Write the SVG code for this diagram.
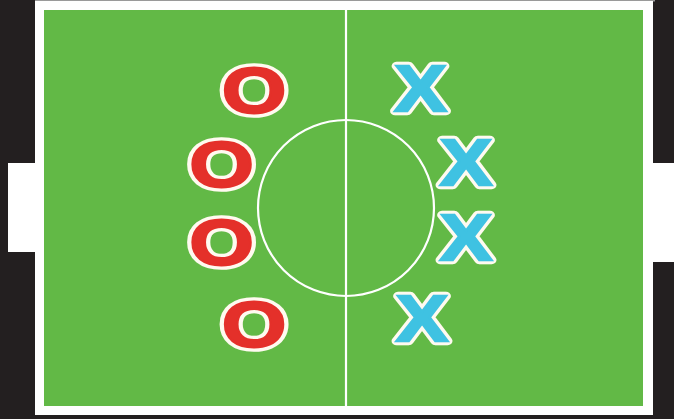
<svg xmlns="http://www.w3.org/2000/svg" width="674" height="419" viewBox="0 0 674 419">
  <style>
    .line { fill: none; stroke: #ffffff; stroke-width: 2.2; }
    .t { font-family: "Liberation Sans", Arial, sans-serif; font-weight: bold; text-anchor: middle; stroke-linejoin: round; }
    .o { font-size: 64px; }
    .x { font-size: 65px; }
    .halo { fill: #fffaf0; stroke: #fffaf0; stroke-width: 8.5; }
    .ored { fill: #e4302a; stroke: #e4302a; stroke-width: 2; }
    .xblue { fill: #3fc2e2; stroke: #3fc2e2; stroke-width: 2.5; stroke-linejoin: miter; }
  </style>
  <rect x="0" y="0" width="674" height="419" fill="#231f20"/>
  <g id="pitch">
    <rect x="35" y="0" width="620" height="1.5" fill="#9a9a9a"/>
    <rect x="35" y="1" width="618" height="414" fill="#ffffff"/>
    <rect x="44" y="10" width="599" height="396" fill="#62b946"/>
  </g>
  <g id="goal-left">
    <rect x="8" y="163" width="29" height="89" fill="#ffffff"/>
  </g>
  <g id="goal-right">
    <rect x="652" y="163" width="22" height="99" fill="#ffffff"/>
  </g>
  <g id="markings">
    <line class="line" x1="346" y1="10" x2="346" y2="406"/>
    <circle class="line" cx="346" cy="208" r="88"/>
  </g>
  <g id="o1" transform="translate(254,90) scale(1.3,1)"><text class="t o halo" x="0" y="23">O</text><text class="t o ored" x="0" y="23">O</text></g>
  <g id="o2" transform="translate(221.5,163.5) scale(1.3,1)"><text class="t o halo" x="0" y="23">O</text><text class="t o ored" x="0" y="23">O</text></g>
  <g id="o3" transform="translate(221.5,242) scale(1.3,1)"><text class="t o halo" x="0" y="23">O</text><text class="t o ored" x="0" y="23">O</text></g>
  <g id="o4" transform="translate(254,323.5) scale(1.3,1)"><text class="t o halo" x="0" y="23">O</text><text class="t o ored" x="0" y="23">O</text></g>
  <g id="x1" transform="translate(420.5,88) scale(1.2,1)"><text class="t x halo" x="0" y="23">X</text><text class="t x xblue" x="0" y="23">X</text></g>
  <g id="x2" transform="translate(466,161.5) scale(1.2,1)"><text class="t x halo" x="0" y="23">X</text><text class="t x xblue" x="0" y="23">X</text></g>
  <g id="x3" transform="translate(466,237) scale(1.2,1)"><text class="t x halo" x="0" y="23">X</text><text class="t x xblue" x="0" y="23">X</text></g>
  <g id="x4" transform="translate(422,318) scale(1.2,1)"><text class="t x halo" x="0" y="23">X</text><text class="t x xblue" x="0" y="23">X</text></g>
</svg>
